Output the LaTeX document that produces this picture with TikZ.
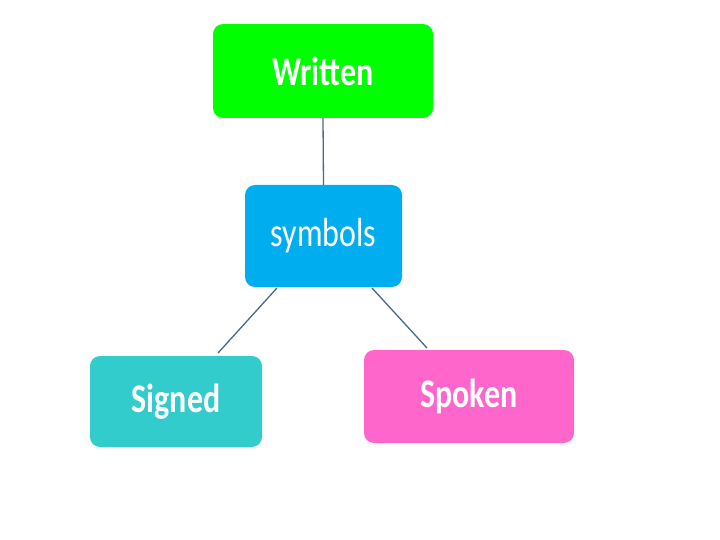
\documentclass[tikz,border=0pt]{standalone}
\usepackage{fontspec}
\setmainfont{Carlito}
\usepackage{graphicx}
\definecolor{cgreen}{RGB}{0,255,0}
\definecolor{cblue}{RGB}{0,174,239}
\definecolor{cteal}{RGB}{51,204,204}
\definecolor{cpink}{RGB}{255,102,204}
\definecolor{cline}{RGB}{74,104,140}
\tikzset{
  box/.style={rectangle, rounded corners=10pt, draw=none, inner sep=0pt, text=white,
    font=\fontsize{32}{36}\selectfont},
  conn/.style={draw=cline, line width=1.3pt}
}
\newcommand{\tall}[1]{\scalebox{1}[1.27]{#1}}
\begin{document}
\begin{tikzpicture}[x=1pt,y=-1pt]
\useasboundingbox (0,0) rectangle (720,540);
\node[box, fill=cgreen, minimum width=220pt, minimum height=94pt] (wr) at (323,71) {\tall{\bfseries Written}};
\node[box, fill=cblue, minimum width=157pt, minimum height=102pt] (sy) at (323.5,236) {\tall{symbols}};
\node[box, fill=cteal, minimum width=172pt, minimum height=91pt] (si) at (176,401.5) {\tall{\bfseries Signed}};
\node[box, fill=cpink, minimum width=210pt, minimum height=93pt] (sp) at (469,396.5) {\tall{\bfseries Spoken}};
\coordinate (c1) at (277,288);
\coordinate (c2) at (218,353);
\coordinate (c3) at (372,288);
\coordinate (c4) at (427,348);
\draw[conn] (wr.south) -- (sy.north);
\draw[conn] (c1) -- (c2);
\draw[conn] (c3) -- (c4);
\end{tikzpicture}
\end{document}
